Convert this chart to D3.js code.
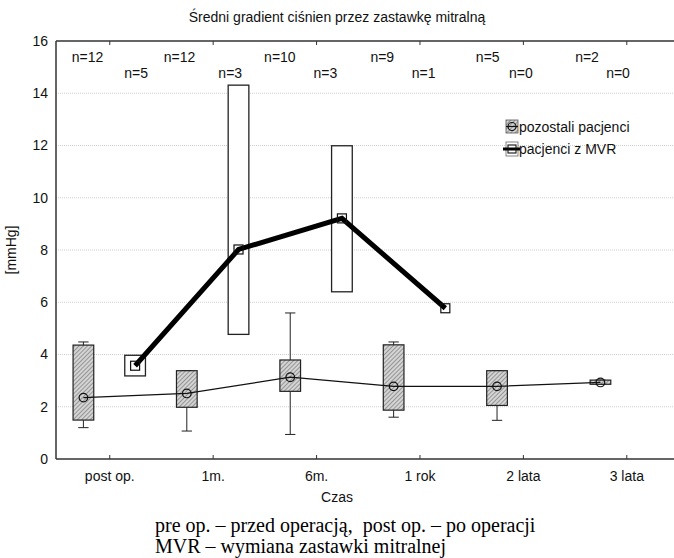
<!DOCTYPE html>
<html>
<head>
<meta charset="utf-8">
<script src="https://cdn.jsdelivr.net/npm/d3@7"></script>
<style>
  html, body { margin: 0; padding: 0; background: #fff; }
  svg { display: block; }
  text { font-family: "Liberation Sans", Arial, sans-serif; fill: #111; }
  .serif { font-family: "Liberation Serif", "Times New Roman", serif; fill: #000; }
</style>
</head>
<body>
<svg id="chart" width="674" height="558"></svg>
<script>
// Time points after mitral valve surgery
const categories = ["post op.", "1m.", "6m.", "1 rok", "2 lata", "3 lata"];

// Remaining patients ("pozostali pacjenci"): mean, box, whisker range
const otherMean    = [2.35, 2.51, 3.13, 2.78, 2.78, 2.93];
const otherBoxLow  = [1.49, 1.98, 2.59, 1.87, 2.05, 2.86];
const otherBoxHigh = [4.36, 3.38, 3.79, 4.37, 3.38, 3.02];
const otherMin     = [1.20, 1.07, 0.94, 1.60, 1.48, 2.86];
const otherMax     = [4.48, 3.38, 5.59, 4.48, 3.38, 3.02];
const otherN       = [12, 12, 10, 9, 5, 2];

// Patients with MVR ("pacjenci z MVR")
const mvrMean    = [3.57, 8.02, 9.21, 5.77, null, null];
const mvrBoxLow  = [3.18, 4.77, 6.40, null, null, null];
const mvrBoxHigh = [3.97, 14.31, 11.99, null, null, null];
const mvrN       = [5, 3, 3, 1, 0, 0];

const yTicks = [0, 2, 4, 6, 8, 10, 12, 14, 16];
const gridValues = [2, 4, 6, 8, 10, 12, 14];

// Horizontal placement of the n= labels, in category units relative to each time point
const nTopShift    = [-0.21, -0.32, -0.35, -0.36, -0.34, -0.38];
const nBottomShift = [0.26, 0.17, 0.09, 0.04, -0.02, -0.08];

const svg = d3.select("#chart");
const W = 674, H = 558;
const plot = { left: 56, right: 678, top: 41, bottom: 459 };
const FS = "14px";

const x = d3.scaleLinear().domain([-0.515, 5.5]).range([plot.left, plot.right]);
const y = d3.scaleLinear().domain([0, 16]).range([plot.bottom, plot.top]);
const groupShift = 0.25;
const boxW = 0.2;

// hatch pattern for the remaining-patients boxes
const defs = svg.append("defs");
const pat = defs.append("pattern")
  .attr("id", "hatch").attr("patternUnits", "userSpaceOnUse")
  .attr("width", 3).attr("height", 3)
  .attr("patternTransform", "rotate(45)");
pat.append("rect").attr("width", 3).attr("height", 3).attr("fill", "#d4d4d4");
pat.append("line").attr("x1", 0).attr("y1", 0).attr("x2", 0).attr("y2", 3)
  .attr("stroke", "#5f5f5f").attr("stroke-width", 1.1);

svg.append("rect").attr("width", W).attr("height", H).attr("fill", "#fff");

// title
svg.append("text").attr("x", 337).attr("y", 22).attr("text-anchor", "middle")
  .style("font-size", FS).text("Średni gradient ciśnien przez zastawkę mitralną");

// grid
svg.append("g").selectAll("line").data(gridValues).join("line")
  .attr("x1", plot.left).attr("x2", W)
  .attr("y1", d => y(d)).attr("y2", d => y(d))
  .attr("stroke", "#cfcfcf").attr("stroke-width", 1).attr("stroke-dasharray", "1,1");

// axes frame
const frame = svg.append("g").attr("stroke", "#333").attr("stroke-width", 1.5).attr("fill", "none");
frame.append("line").attr("x1", plot.left).attr("x2", plot.left).attr("y1", plot.top).attr("y2", plot.bottom);
frame.append("line").attr("x1", plot.left).attr("x2", W).attr("y1", plot.bottom).attr("y2", plot.bottom);
frame.append("line").attr("x1", plot.left).attr("x2", W).attr("y1", plot.top).attr("y2", plot.top);

// bottom axis
const xAxis = d3.axisBottom(x).tickValues(d3.range(categories.length))
  .tickFormat(i => categories[i]).tickSizeInner(-4).tickSizeOuter(0).tickPadding(12);
const gx = svg.append("g").attr("transform", `translate(0,${plot.bottom})`).call(xAxis);
gx.select(".domain").remove();
gx.selectAll(".tick line").attr("stroke", "#333");
gx.selectAll(".tick text").style("font-size", FS).style("font-family", "Liberation Sans, Arial, sans-serif").attr("fill", "#111");

// ticks on the top frame
const gxt = svg.append("g").attr("transform", `translate(0,${plot.top})`)
  .call(d3.axisTop(x).tickValues(d3.range(categories.length)).tickFormat("").tickSizeInner(-4).tickSizeOuter(0));
gxt.select(".domain").remove();
gxt.selectAll(".tick line").attr("stroke", "#333");

// left axis labels
const gy = svg.append("g").attr("transform", `translate(${plot.left},0)`)
  .call(d3.axisLeft(y).tickValues(yTicks).tickFormat(d3.format("d")).tickSize(0).tickPadding(8));
gy.select(".domain").remove();
gy.selectAll(".tick text").style("font-size", FS).style("font-family", "Liberation Sans, Arial, sans-serif").attr("fill", "#111");

// axis titles
svg.append("text").attr("x", 337).attr("y", 502).attr("text-anchor", "middle")
  .style("font-size", FS).text("Czas");
svg.append("text").attr("transform", "translate(16,250) rotate(-90)").attr("text-anchor", "middle")
  .style("font-size", FS).text("[mmHg]");

// n= labels
const nLayer = svg.append("g").style("font-size", FS).attr("text-anchor", "middle");
nLayer.selectAll(".nTop").data(otherN).join("text").attr("class", "nTop")
  .attr("x", (d, i) => x(i + nTopShift[i])).attr("y", 62).text(d => "n=" + d);
nLayer.selectAll(".nBot").data(mvrN).join("text").attr("class", "nBot")
  .attr("x", (d, i) => x(i + nBottomShift[i])).attr("y", 78).text(d => "n=" + d);

// --- remaining patients: whiskers, hatched boxes, mean line, circles ---
const other = categories.map((c, i) => ({
  i, mean: otherMean[i], lo: otherBoxLow[i], hi: otherBoxHigh[i], min: otherMin[i], max: otherMax[i]
}));
const gO = svg.append("g");
const cx = d => x(d.i - groupShift);
const capHalf = (x(0.05) - x(0));
gO.selectAll(".wl").data(other).join("path")
  .attr("d", d => `M${cx(d)},${y(d.hi)}V${y(d.max)}M${cx(d)-capHalf},${y(d.max)}H${cx(d)+capHalf}` +
                  `M${cx(d)},${y(d.lo)}V${y(d.min)}M${cx(d)-capHalf},${y(d.min)}H${cx(d)+capHalf}`)
  .attr("stroke", "#222").attr("stroke-width", 1).attr("fill", "none");
gO.selectAll("rect").data(other).join("rect")
  .attr("x", d => x(d.i - groupShift - boxW / 2)).attr("width", x(boxW) - x(0))
  .attr("y", d => y(d.hi)).attr("height", d => y(d.lo) - y(d.hi))
  .attr("fill", "url(#hatch)").attr("stroke", "#222").attr("stroke-width", 1.2);
gO.append("path").datum(other)
  .attr("d", d3.line().x(cx).y(d => y(d.mean)))
  .attr("fill", "none").attr("stroke", "#111").attr("stroke-width", 1.2);
gO.selectAll("circle").data(other).join("circle")
  .attr("cx", cx).attr("cy", d => y(d.mean)).attr("r", 4.3)
  .attr("fill", "none").attr("stroke", "#111").attr("stroke-width", 1.2);

// --- MVR patients: open boxes, thick mean line, square markers ---
const mvr = categories.map((c, i) => ({ i, mean: mvrMean[i], lo: mvrBoxLow[i], hi: mvrBoxHigh[i] }))
  .filter(d => d.mean != null);
const gM = svg.append("g");
const mx = d => x(d.i + groupShift);
gM.selectAll("rect.box").data(mvr.filter(d => d.lo != null)).join("rect").attr("class", "box")
  .attr("x", d => x(d.i + groupShift - boxW / 2)).attr("width", x(boxW) - x(0))
  .attr("y", d => y(d.hi)).attr("height", d => y(d.lo) - y(d.hi))
  .attr("fill", "#fff").attr("stroke", "#222").attr("stroke-width", 1.3);
gM.append("path").datum(mvr)
  .attr("d", d3.line().x(mx).y(d => y(d.mean)))
  .attr("fill", "none").attr("stroke", "#000").attr("stroke-width", 5).attr("stroke-linejoin", "miter");
gM.selectAll("rect.mk").data(mvr).join("rect").attr("class", "mk")
  .attr("x", d => mx(d) - 4.5).attr("y", d => y(d.mean) - 4.5)
  .attr("width", 9).attr("height", 9)
  .attr("fill", "none").attr("stroke", "#111").attr("stroke-width", 1.2);

// legend
const lg = svg.append("g").attr("transform", "translate(506,120)");
lg.append("rect").attr("x", 0).attr("y", 0).attr("width", 12).attr("height", 13)
  .attr("fill", "url(#hatch)").attr("stroke", "#555").attr("stroke-width", 0.8);
lg.append("line").attr("x1", 0).attr("x2", 12).attr("y1", 6.5).attr("y2", 6.5).attr("stroke", "#111").attr("stroke-width", 1.2);
lg.append("circle").attr("cx", 6).attr("cy", 6.5).attr("r", 4).attr("fill", "none").attr("stroke", "#111").attr("stroke-width", 1.1);
lg.append("text").attr("x", 13).attr("y", 12).style("font-size", FS).text("pozostali pacjenci");
lg.append("rect").attr("x", 0).attr("y", 22).attr("width", 12).attr("height", 14)
  .attr("fill", "#fff").attr("stroke", "#666").attr("stroke-width", 0.8);
lg.append("line").attr("x1", -3).attr("x2", 14).attr("y1", 29).attr("y2", 29).attr("stroke", "#000").attr("stroke-width", 3);
lg.append("rect").attr("x", 2).attr("y", 25).attr("width", 8).attr("height", 8)
  .attr("fill", "none").attr("stroke", "#111").attr("stroke-width", 1.1);
lg.append("text").attr("x", 13).attr("y", 34).style("font-size", FS).text("pacjenci z MVR");

// explanatory notes under the chart
svg.append("text").attr("class", "serif").attr("x", 155).attr("y", 532)
  .style("font-size", "20px").attr("xml:space", "preserve")
  .text("pre op. – przed operacją,  post op. – po operacji");
svg.append("text").attr("class", "serif").attr("x", 155).attr("y", 553)
  .style("font-size", "20px").text("MVR – wymiana zastawki mitralnej");
</script>
</body>
</html>
